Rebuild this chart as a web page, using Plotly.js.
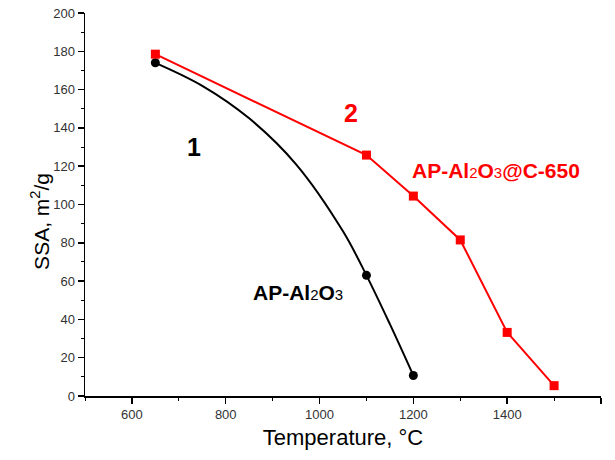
<!DOCTYPE html>
<html>
<head>
<meta charset="utf-8">
<script src="https://cdn.plot.ly/plotly-3.0.1.min.js"></script>
<style>html,body{margin:0;padding:0;background:#fff}#chart{width:615px;height:460px}</style>
</head>
<body>
<div id="chart"></div>
<script>
// measured points
const tempBlack = [650, 1100, 1200];
const ssaBlack = [174, 63, 10.7];
// black fitted curve
const curveTemp = [650, 750, 850, 950, 1050, 1100, 1150, 1200];
const curveSSA = [174, 162, 145, 121, 86, 63, 37.5, 10.7];
const tempRed = [650, 1100, 1200, 1300, 1400, 1500];
const ssaRed = [178.5, 125.8, 104.4, 81.5, 33.2, 5.4];
const xTicks = [600, 800, 1000, 1200, 1400, 1600];
const yTicks = [0, 20, 40, 60, 80, 100, 120, 140, 160, 180, 200];

const traces = [
  {x: curveTemp, y: curveSSA, mode: 'lines', line: {color: '#000', width: 2, shape: 'spline', smoothing: 1}, showlegend: false, hoverinfo: 'skip'},
  {x: tempBlack, y: ssaBlack, mode: 'markers', marker: {symbol: 'circle', size: 9, color: '#000'}, showlegend: false},
  {x: tempRed, y: ssaRed, mode: 'lines+markers', line: {color: '#ff0000', width: 2}, marker: {symbol: 'square', size: 9, color: '#ff0000'}, showlegend: false}
];

const sub = s => "<span style='font-size:15px;font-weight:normal'>" + s + "</span>";
const layout = {
  width: 615, height: 460,
  margin: {l: 85, r: 14, t: 13, b: 64},
  paper_bgcolor: '#fff', plot_bgcolor: '#fff',
  font: {family: 'Arial, Liberation Sans, sans-serif', color: '#222'},
  xaxis: {
    range: [500, 1600], tickvals: xTicks, ticks: 'outside', ticklen: 6, tickwidth: 1.5, tickcolor: '#000',
    showline: true, linecolor: '#000', linewidth: 1.5, showgrid: false, zeroline: false,
    tickfont: {size: 13, color: '#333'},
    minor: {dtick: 200, tick0: 500, ticks: 'outside', ticklen: 3, tickwidth: 1, tickcolor: '#000'},
    title: {text: 'Temperature, °C', font: {size: 22, color: '#000'}, standoff: 8}
  },
  yaxis: {
    range: [0, 200], tickvals: yTicks, ticks: 'outside', ticklen: 6, tickwidth: 1.5, tickcolor: '#000',
    showline: true, linecolor: '#000', linewidth: 1.5, showgrid: false, zeroline: false,
    tickfont: {size: 13, color: '#333'},
    minor: {dtick: 20, tick0: 10, ticks: 'outside', ticklen: 3, tickwidth: 1, tickcolor: '#000'}
  },
  annotations: [
    {x: -0.116, y: 0.455, xref: 'paper', yref: 'paper', text: 'SSA, m<sup>2</sup>/g', textangle: -90, showarrow: false, font: {size: 21, color: '#000'}},
    {x: 733, y: 130, xref: 'x', yref: 'y', text: '<b>1</b>', showarrow: false, font: {size: 25, color: '#000'}},
    {x: 1066, y: 148, xref: 'x', yref: 'y', text: '<b>2</b>', showarrow: false, font: {size: 25, color: '#ff0000'}},
    {x: 1376, y: 118, xref: 'x', yref: 'y', text: '<b>AP-Al</b>' + sub('2') + '<b>O</b>' + sub('3') + '<b>@C-650</b>', showarrow: false, font: {size: 21, color: '#ff0000'}},
    {x: 953, y: 54, xref: 'x', yref: 'y', text: '<b>AP-Al</b>' + sub('2') + '<b>O</b>' + sub('3'), showarrow: false, font: {size: 21, color: '#000'}}
  ]
};
Plotly.newPlot('chart', traces, layout, {displayModeBar: false, staticPlot: true});
</script>
</body>
</html>
